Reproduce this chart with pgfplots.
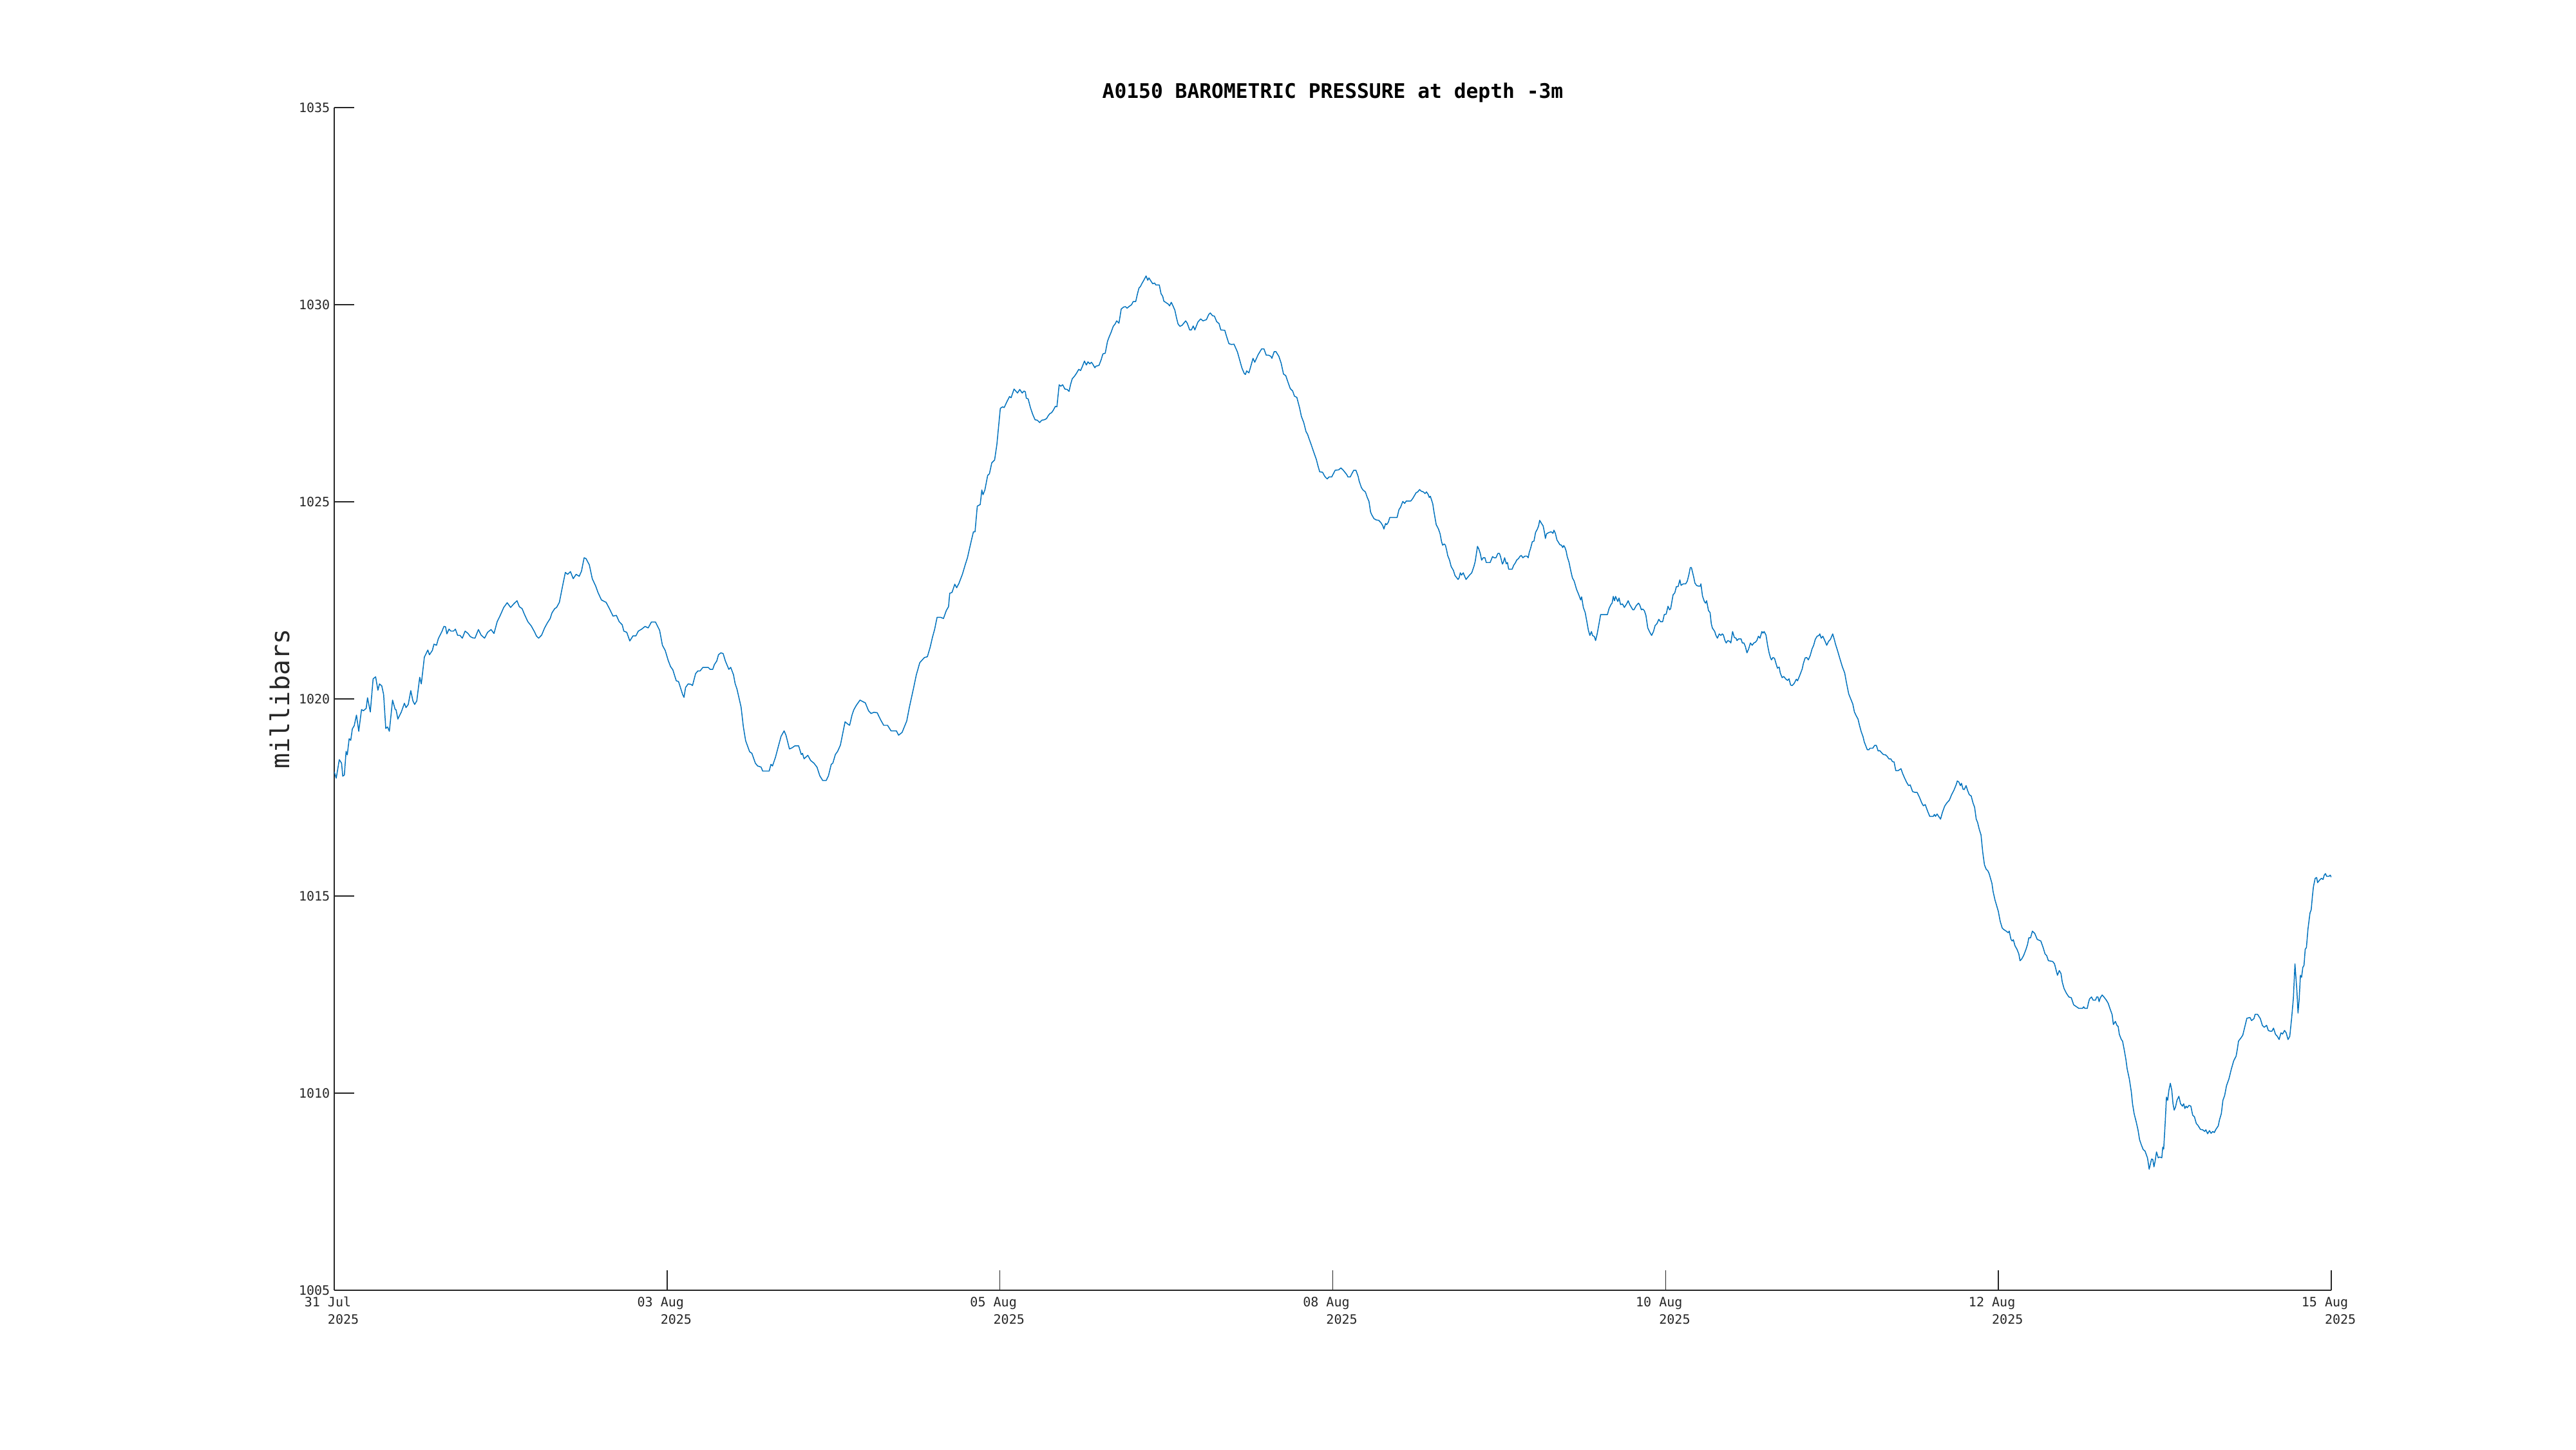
\documentclass[border=0pt]{standalone}
\usepackage{fontspec}
\setmainfont{DejaVu Sans Mono}
\usepackage{pgfplots}
\pgfplotsset{compat=1.18}
\definecolor{axgray}{HTML}{262626}
\definecolor{mblue}{HTML}{0072BD}
\newcommand{\dl}[1]{\begin{tabular}{@{}l@{}}#1\\\phantom{00 }2025\end{tabular}}
\begin{document}
\begin{tikzpicture}
\useasboundingbox (0,0) rectangle (40cm,22.5cm);
\begin{axis}[
 at={(5.19cm,2.47cm)}, anchor=south west,
 scale only axis, width=31.01cm, height=18.36cm,
 xmin=0, xmax=15, ymin=1005, ymax=1035,
 axis lines=left, axis line style={-, draw=axgray, line width=0.4pt},
 tick align=inside, major tick length=0.31cm,
 tick style={draw=axgray, line width=0.4pt},
 xtick={0,2.5,5,7.5,10,12.5,15},
 xticklabels={\dl{31 Jul},\dl{03 Aug},\dl{05 Aug},\dl{08 Aug},\dl{10 Aug},\dl{12 Aug},\dl{15 Aug}},
 ytick={1005,1010,1015,1020,1025,1030,1035},
 /pgf/number format/assume math mode=true,
 /pgf/number format/1000 sep={},
 yticklabel style={font=\fontsize{5.7}{7}\selectfont, text=axgray, anchor=east, inner sep=0pt, xshift=-0.06cm},
 xticklabel style={font=\fontsize{5.7}{7.7}\selectfont, text=axgray, anchor=north, inner sep=0pt, yshift=-0.057cm, xshift=-0.04cm},
 title={A0150 BAROMETRIC PRESSURE at depth -3m},
 title style={font=\fontsize{8.9}{10}\selectfont\bfseries, at={(0.5,1)}, anchor=base, yshift=-2.0pt, inner sep=0pt},
 ylabel={millibars},
 ylabel style={font=\fontsize{11.4}{13}\selectfont, at={(axis description cs:-0.0274,0.5)}, anchor=center, inner sep=0pt, text=axgray},
]
\addplot[mblue, line width=0.42pt, line join=round] table {
0 1018.15
0.015 1017.99
0.038 1018.46
0.055 1018.37
0.064 1018.04
0.076 1018.07
0.089 1018.67
0.098 1018.58
0.112 1018.99
0.124 1018.95
0.136 1019.24
0.150 1019.32
0.167 1019.59
0.184 1019.18
0.205 1019.73
0.219 1019.70
0.240 1019.76
0.250 1020.03
0.271 1019.67
0.292 1020.51
0.311 1020.56
0.328 1020.22
0.340 1020.38
0.357 1020.33
0.371 1020.11
0.387 1019.25
0.400 1019.29
0.414 1019.18
0.438 1019.97
0.458 1019.73
0.464 1019.73
0.478 1019.49
0.504 1019.67
0.527 1019.89
0.539 1019.78
0.556 1019.86
0.575 1020.21
0.591 1019.95
0.604 1019.86
0.620 1019.95
0.642 1020.55
0.654 1020.38
0.677 1021.06
0.703 1021.24
0.715 1021.12
0.737 1021.23
0.749 1021.39
0.768 1021.36
0.782 1021.53
0.810 1021.72
0.824 1021.84
0.836 1021.83
0.846 1021.65
0.862 1021.77
0.876 1021.72
0.896 1021.72
0.910 1021.77
0.927 1021.61
0.945 1021.61
0.962 1021.54
0.983 1021.72
1.005 1021.66
1.022 1021.58
1.040 1021.55
1.057 1021.54
1.083 1021.76
1.103 1021.62
1.129 1021.54
1.152 1021.69
1.178 1021.76
1.200 1021.66
1.224 1021.96
1.247 1022.12
1.273 1022.32
1.299 1022.44
1.325 1022.32
1.351 1022.42
1.373 1022.49
1.390 1022.34
1.411 1022.29
1.428 1022.15
1.454 1021.96
1.480 1021.85
1.506 1021.69
1.518 1021.60
1.535 1021.54
1.558 1021.62
1.580 1021.80
1.601 1021.93
1.622 1022.04
1.635 1022.18
1.656 1022.29
1.670 1022.32
1.691 1022.45
1.713 1022.83
1.736 1023.21
1.753 1023.16
1.774 1023.23
1.795 1023.05
1.817 1023.16
1.840 1023.11
1.857 1023.24
1.877 1023.58
1.891 1023.56
1.916 1023.40
1.938 1023.05
1.964 1022.86
1.981 1022.70
2.007 1022.51
2.042 1022.45
2.067 1022.29
2.094 1022.10
2.119 1022.12
2.140 1021.96
2.163 1021.88
2.175 1021.72
2.197 1021.69
2.220 1021.47
2.244 1021.60
2.266 1021.60
2.284 1021.72
2.309 1021.77
2.335 1021.84
2.358 1021.80
2.382 1021.95
2.413 1021.95
2.444 1021.74
2.465 1021.36
2.486 1021.23
2.508 1020.98
2.526 1020.82
2.543 1020.74
2.569 1020.46
2.586 1020.44
2.617 1020.11
2.627 1020.04
2.639 1020.29
2.658 1020.38
2.679 1020.37
2.691 1020.34
2.714 1020.64
2.731 1020.71
2.748 1020.71
2.769 1020.80
2.809 1020.80
2.823 1020.75
2.843 1020.75
2.855 1020.87
2.873 1020.96
2.886 1021.12
2.904 1021.17
2.921 1021.15
2.938 1020.96
2.964 1020.75
2.978 1020.80
2.999 1020.61
3.011 1020.39
3.025 1020.25
3.056 1019.79
3.073 1019.29
3.090 1018.94
3.120 1018.66
3.137 1018.62
3.163 1018.37
3.180 1018.30
3.206 1018.27
3.218 1018.17
3.267 1018.17
3.280 1018.34
3.292 1018.30
3.315 1018.53
3.336 1018.80
3.356 1019.05
3.379 1019.19
3.393 1019.08
3.419 1018.73
3.439 1018.76
3.460 1018.81
3.488 1018.81
3.508 1018.59
3.517 1018.62
3.529 1018.48
3.557 1018.57
3.578 1018.44
3.603 1018.37
3.626 1018.27
3.647 1018.05
3.669 1017.93
3.695 1017.93
3.712 1018.05
3.733 1018.34
3.745 1018.37
3.764 1018.59
3.781 1018.67
3.802 1018.83
3.837 1019.42
3.854 1019.37
3.871 1019.33
3.889 1019.59
3.902 1019.72
3.920 1019.83
3.949 1019.97
3.971 1019.93
3.989 1019.90
4.013 1019.70
4.032 1019.63
4.053 1019.66
4.078 1019.65
4.104 1019.47
4.127 1019.33
4.156 1019.33
4.182 1019.19
4.222 1019.19
4.239 1019.08
4.265 1019.15
4.300 1019.44
4.320 1019.79
4.351 1020.27
4.372 1020.61
4.398 1020.92
4.433 1021.05
4.455 1021.07
4.476 1021.31
4.493 1021.56
4.510 1021.77
4.528 1022.07
4.554 1022.07
4.576 1022.04
4.597 1022.24
4.614 1022.34
4.623 1022.68
4.640 1022.70
4.661 1022.91
4.675 1022.82
4.692 1022.93
4.718 1023.16
4.739 1023.40
4.756 1023.58
4.770 1023.79
4.787 1024.04
4.801 1024.24
4.813 1024.24
4.830 1024.89
4.852 1024.93
4.864 1025.30
4.873 1025.18
4.887 1025.30
4.908 1025.67
4.921 1025.71
4.939 1025.99
4.960 1026.06
4.977 1026.45
5.003 1027.37
5.020 1027.41
5.032 1027.39
5.054 1027.55
5.072 1027.67
5.084 1027.64
5.106 1027.86
5.132 1027.76
5.149 1027.85
5.167 1027.76
5.181 1027.81
5.191 1027.79
5.198 1027.63
5.212 1027.61
5.229 1027.39
5.246 1027.22
5.264 1027.08
5.281 1027.07
5.298 1027.01
5.315 1027.07
5.333 1027.08
5.350 1027.11
5.364 1027.19
5.376 1027.24
5.388 1027.26
5.402 1027.33
5.416 1027.42
5.428 1027.41
5.445 1027.97
5.457 1027.93
5.471 1027.97
5.488 1027.86
5.505 1027.85
5.519 1027.80
5.531 1027.98
5.543 1028.12
5.561 1028.19
5.575 1028.26
5.592 1028.36
5.606 1028.33
5.620 1028.44
5.635 1028.57
5.649 1028.47
5.661 1028.55
5.675 1028.50
5.687 1028.54
5.696 1028.50
5.713 1028.40
5.721 1028.44
5.744 1028.46
5.761 1028.61
5.773 1028.75
5.791 1028.77
5.808 1029.07
5.820 1029.18
5.834 1029.29
5.851 1029.45
5.865 1029.51
5.877 1029.59
5.894 1029.53
5.911 1029.89
5.929 1029.94
5.943 1029.95
5.955 1029.91
5.968 1029.95
5.989 1030.00
6.001 1030.08
6.020 1030.08
6.032 1030.26
6.044 1030.42
6.055 1030.46
6.067 1030.54
6.079 1030.61
6.098 1030.73
6.110 1030.62
6.119 1030.68
6.136 1030.59
6.148 1030.53
6.162 1030.55
6.171 1030.50
6.197 1030.50
6.210 1030.28
6.223 1030.21
6.231 1030.09
6.249 1030.05
6.266 1030.01
6.274 1029.97
6.287 1030.06
6.300 1029.97
6.314 1029.86
6.326 1029.67
6.338 1029.51
6.352 1029.45
6.369 1029.48
6.395 1029.59
6.407 1029.53
6.425 1029.36
6.438 1029.36
6.452 1029.46
6.464 1029.36
6.487 1029.56
6.508 1029.64
6.525 1029.59
6.551 1029.62
6.568 1029.75
6.580 1029.79
6.597 1029.72
6.611 1029.71
6.628 1029.57
6.646 1029.52
6.659 1029.36
6.689 1029.35
6.701 1029.21
6.720 1029.01
6.741 1028.99
6.758 1029.00
6.767 1028.93
6.784 1028.80
6.798 1028.63
6.818 1028.39
6.836 1028.25
6.844 1028.23
6.853 1028.32
6.870 1028.27
6.887 1028.47
6.901 1028.64
6.914 1028.54
6.939 1028.73
6.966 1028.88
6.983 1028.88
7.000 1028.72
7.017 1028.72
7.035 1028.69
7.043 1028.64
7.060 1028.81
7.073 1028.81
7.095 1028.69
7.112 1028.52
7.130 1028.24
7.147 1028.20
7.164 1028.03
7.181 1027.87
7.199 1027.81
7.212 1027.68
7.230 1027.65
7.251 1027.38
7.264 1027.17
7.282 1027.01
7.299 1026.78
7.311 1026.71
7.323 1026.59
7.337 1026.46
7.354 1026.29
7.377 1026.07
7.389 1025.91
7.402 1025.76
7.423 1025.75
7.441 1025.64
7.458 1025.58
7.472 1025.63
7.492 1025.63
7.518 1025.80
7.544 1025.81
7.561 1025.86
7.579 1025.80
7.605 1025.69
7.614 1025.63
7.631 1025.63
7.657 1025.80
7.674 1025.80
7.691 1025.64
7.698 1025.53
7.715 1025.36
7.727 1025.30
7.745 1025.25
7.758 1025.12
7.772 1025.01
7.784 1024.74
7.793 1024.67
7.810 1024.57
7.827 1024.54
7.845 1024.53
7.862 1024.47
7.876 1024.39
7.884 1024.31
7.897 1024.45
7.905 1024.42
7.917 1024.48
7.928 1024.60
7.983 1024.60
7.997 1024.80
8.009 1024.86
8.026 1025.01
8.040 1024.96
8.052 1025.02
8.086 1025.02
8.100 1025.08
8.112 1025.15
8.126 1025.23
8.138 1025.25
8.152 1025.31
8.164 1025.27
8.181 1025.25
8.193 1025.21
8.204 1025.25
8.216 1025.19
8.225 1025.11
8.233 1025.14
8.251 1024.95
8.259 1024.77
8.277 1024.42
8.294 1024.31
8.306 1024.19
8.317 1023.99
8.325 1023.90
8.337 1023.93
8.346 1023.90
8.355 1023.78
8.363 1023.64
8.377 1023.52
8.389 1023.36
8.406 1023.26
8.418 1023.13
8.432 1023.07
8.441 1023.03
8.449 1023.07
8.458 1023.20
8.467 1023.14
8.480 1023.20
8.487 1023.14
8.501 1023.03
8.515 1023.09
8.527 1023.14
8.544 1023.20
8.561 1023.37
8.570 1023.49
8.587 1023.87
8.596 1023.81
8.608 1023.69
8.618 1023.52
8.630 1023.58
8.643 1023.58
8.653 1023.46
8.682 1023.46
8.700 1023.61
8.712 1023.58
8.726 1023.58
8.740 1023.69
8.752 1023.69
8.760 1023.61
8.774 1023.42
8.781 1023.46
8.791 1023.58
8.803 1023.43
8.812 1023.46
8.821 1023.29
8.847 1023.29
8.859 1023.39
8.873 1023.46
8.881 1023.52
8.895 1023.56
8.907 1023.62
8.916 1023.64
8.928 1023.58
8.942 1023.62
8.959 1023.62
8.968 1023.58
8.976 1023.72
8.985 1023.81
8.999 1023.99
9.011 1024.00
9.023 1024.22
9.037 1024.31
9.046 1024.39
9.054 1024.53
9.068 1024.45
9.080 1024.39
9.092 1024.19
9.097 1024.07
9.106 1024.19
9.123 1024.22
9.140 1024.24
9.154 1024.20
9.161 1024.28
9.172 1024.20
9.184 1024.03
9.192 1023.99
9.206 1023.91
9.218 1023.90
9.227 1023.84
9.235 1023.89
9.244 1023.84
9.253 1023.75
9.261 1023.61
9.275 1023.46
9.287 1023.26
9.300 1023.07
9.313 1022.99
9.331 1022.78
9.348 1022.64
9.362 1022.51
9.369 1022.59
9.382 1022.32
9.396 1022.19
9.408 1021.97
9.420 1021.74
9.431 1021.61
9.443 1021.71
9.451 1021.61
9.465 1021.58
9.474 1021.48
9.486 1021.65
9.500 1021.91
9.512 1022.14
9.538 1022.14
9.563 1022.14
9.575 1022.29
9.589 1022.39
9.598 1022.43
9.607 1022.60
9.616 1022.49
9.624 1022.60
9.641 1022.47
9.650 1022.56
9.662 1022.39
9.676 1022.41
9.690 1022.32
9.707 1022.41
9.719 1022.49
9.731 1022.39
9.754 1022.26
9.762 1022.26
9.780 1022.37
9.797 1022.43
9.806 1022.38
9.818 1022.26
9.828 1022.28
9.840 1022.24
9.852 1022.12
9.866 1021.80
9.883 1021.68
9.895 1021.61
9.909 1021.71
9.921 1021.86
9.935 1021.91
9.949 1022.02
9.961 1021.96
9.978 1021.96
9.990 1022.14
10.004 1022.15
10.018 1022.35
10.030 1022.26
10.038 1022.29
10.056 1022.64
10.069 1022.69
10.081 1022.85
10.094 1022.85
10.107 1023.02
10.116 1022.88
10.133 1022.92
10.151 1022.92
10.163 1022.99
10.176 1023.17
10.185 1023.33
10.194 1023.33
10.211 1023.09
10.220 1022.94
10.232 1022.88
10.246 1022.86
10.260 1022.86
10.265 1022.92
10.277 1022.61
10.291 1022.47
10.300 1022.43
10.308 1022.49
10.322 1022.24
10.334 1022.19
10.343 1021.91
10.351 1021.80
10.369 1021.71
10.377 1021.62
10.389 1021.54
10.403 1021.65
10.415 1021.61
10.426 1021.65
10.434 1021.62
10.446 1021.48
10.455 1021.42
10.467 1021.48
10.481 1021.46
10.490 1021.42
10.503 1021.71
10.516 1021.56
10.529 1021.54
10.536 1021.48
10.547 1021.52
10.567 1021.52
10.576 1021.42
10.588 1021.42
10.599 1021.33
10.611 1021.17
10.623 1021.26
10.637 1021.42
10.650 1021.36
10.663 1021.42
10.675 1021.44
10.685 1021.48
10.697 1021.59
10.709 1021.54
10.723 1021.71
10.731 1021.67
10.740 1021.71
10.749 1021.65
10.754 1021.62
10.766 1021.36
10.778 1021.16
10.788 1021.04
10.795 1020.99
10.806 1021.05
10.818 1021.03
10.830 1020.89
10.840 1020.78
10.853 1020.81
10.861 1020.66
10.875 1020.54
10.887 1020.57
10.904 1020.50
10.916 1020.47
10.927 1020.51
10.939 1020.35
10.951 1020.34
10.965 1020.39
10.982 1020.50
10.991 1020.46
11.008 1020.60
11.026 1020.76
11.034 1020.89
11.048 1021.04
11.060 1021.05
11.072 1020.99
11.086 1021.10
11.100 1021.27
11.112 1021.36
11.124 1021.51
11.138 1021.59
11.152 1021.61
11.158 1021.65
11.169 1021.54
11.181 1021.59
11.198 1021.46
11.210 1021.36
11.224 1021.46
11.238 1021.51
11.255 1021.65
11.267 1021.51
11.276 1021.39
11.290 1021.24
11.297 1021.16
11.310 1021.01
11.328 1020.81
11.345 1020.66
11.359 1020.40
11.375 1020.13
11.388 1020.02
11.406 1019.87
11.418 1019.67
11.432 1019.57
11.445 1019.49
11.457 1019.32
11.469 1019.17
11.483 1019.04
11.492 1018.91
11.515 1018.71
11.527 1018.71
11.535 1018.75
11.556 1018.75
11.570 1018.82
11.583 1018.82
11.596 1018.68
11.608 1018.69
11.621 1018.64
11.635 1018.59
11.652 1018.58
11.665 1018.54
11.677 1018.48
11.691 1018.48
11.704 1018.41
11.716 1018.40
11.729 1018.18
11.746 1018.18
11.768 1018.23
11.780 1018.11
11.794 1018.00
11.811 1017.88
11.825 1017.80
11.837 1017.82
11.855 1017.65
11.872 1017.63
11.889 1017.63
11.906 1017.51
11.924 1017.36
11.936 1017.29
11.950 1017.32
11.967 1017.16
11.984 1017.02
12.010 1017.02
12.019 1017.07
12.027 1017.02
12.039 1017.08
12.053 1017.01
12.065 1016.95
12.079 1017.12
12.096 1017.28
12.114 1017.37
12.131 1017.43
12.148 1017.57
12.165 1017.68
12.183 1017.83
12.191 1017.92
12.203 1017.89
12.214 1017.80
12.222 1017.86
12.234 1017.71
12.243 1017.70
12.257 1017.80
12.269 1017.67
12.281 1017.57
12.295 1017.54
12.309 1017.36
12.321 1017.25
12.333 1016.95
12.343 1016.87
12.356 1016.69
12.369 1016.55
12.382 1016.11
12.395 1015.79
12.408 1015.68
12.420 1015.64
12.430 1015.57
12.451 1015.32
12.460 1015.11
12.474 1014.90
12.487 1014.75
12.499 1014.61
12.513 1014.36
12.528 1014.19
12.540 1014.15
12.558 1014.11
12.573 1014.07
12.581 1014.11
12.594 1013.90
12.603 1013.86
12.612 1013.89
12.624 1013.74
12.639 1013.65
12.653 1013.53
12.662 1013.36
12.674 1013.40
12.689 1013.49
12.707 1013.65
12.719 1013.78
12.728 1013.94
12.741 1013.94
12.755 1014.11
12.773 1014.05
12.791 1013.90
12.818 1013.86
12.836 1013.69
12.850 1013.53
12.862 1013.49
12.875 1013.36
12.907 1013.34
12.921 1013.28
12.934 1013.11
12.943 1012.99
12.957 1013.11
12.970 1013.03
12.979 1012.82
12.993 1012.65
13.011 1012.53
13.029 1012.44
13.047 1012.42
13.065 1012.24
13.104 1012.15
13.131 1012.15
13.140 1012.19
13.149 1012.15
13.167 1012.15
13.175 1012.28
13.184 1012.39
13.199 1012.44
13.211 1012.36
13.229 1012.36
13.238 1012.44
13.247 1012.44
13.256 1012.32
13.265 1012.42
13.279 1012.49
13.292 1012.44
13.310 1012.36
13.324 1012.28
13.337 1012.15
13.354 1011.99
13.363 1011.74
13.378 1011.82
13.390 1011.72
13.399 1011.69
13.408 1011.49
13.423 1011.36
13.432 1011.32
13.444 1011.11
13.457 1010.86
13.467 1010.61
13.483 1010.36
13.498 1010.03
13.507 1009.73
13.519 1009.48
13.534 1009.28
13.548 1009.07
13.560 1008.82
13.573 1008.69
13.587 1008.57
13.601 1008.53
13.619 1008.36
13.623 1008.28
13.632 1008.07
13.650 1008.33
13.659 1008.32
13.668 1008.13
13.677 1008.28
13.687 1008.51
13.700 1008.36
13.712 1008.38
13.727 1008.36
13.734 1008.63
13.741 1008.58
13.752 1009.23
13.762 1009.90
13.771 1009.82
13.780 1010.07
13.791 1010.25
13.802 1010.07
13.811 1009.73
13.820 1009.57
13.830 1009.65
13.841 1009.82
13.855 1009.92
13.868 1009.73
13.882 1009.67
13.891 1009.73
13.900 1009.61
13.909 1009.67
13.918 1009.63
13.931 1009.69
13.945 1009.67
13.959 1009.44
13.972 1009.40
13.986 1009.23
13.999 1009.18
14.017 1009.08
14.034 1009.07
14.049 1009.03
14.058 1009.07
14.071 1008.97
14.085 1009.05
14.097 1008.98
14.110 1009.03
14.121 1009.00
14.133 1009.08
14.151 1009.17
14.160 1009.32
14.174 1009.48
14.186 1009.82
14.199 1009.94
14.213 1010.19
14.231 1010.36
14.249 1010.61
14.267 1010.82
14.285 1010.94
14.294 1011.11
14.303 1011.32
14.321 1011.40
14.335 1011.47
14.348 1011.65
14.366 1011.90
14.389 1011.92
14.401 1011.84
14.419 1011.89
14.428 1012.00
14.446 1012.00
14.467 1011.89
14.482 1011.72
14.496 1011.67
14.514 1011.72
14.527 1011.59
14.541 1011.57
14.554 1011.57
14.566 1011.65
14.581 1011.49
14.595 1011.44
14.608 1011.36
14.622 1011.53
14.634 1011.50
14.649 1011.59
14.661 1011.53
14.675 1011.36
14.688 1011.44
14.702 1011.90
14.715 1012.40
14.727 1013.28
14.742 1012.57
14.750 1012.03
14.759 1012.40
14.768 1012.99
14.777 1012.94
14.786 1013.19
14.795 1013.24
14.804 1013.65
14.813 1013.69
14.825 1014.17
14.840 1014.57
14.849 1014.65
14.858 1014.99
14.866 1015.24
14.879 1015.45
14.890 1015.47
14.897 1015.34
14.911 1015.40
14.926 1015.45
14.938 1015.42
14.947 1015.53
14.956 1015.57
14.965 1015.50
14.983 1015.50
14.992 1015.53
15.000 1015.48
};
\end{axis}
\end{tikzpicture}
\end{document}
